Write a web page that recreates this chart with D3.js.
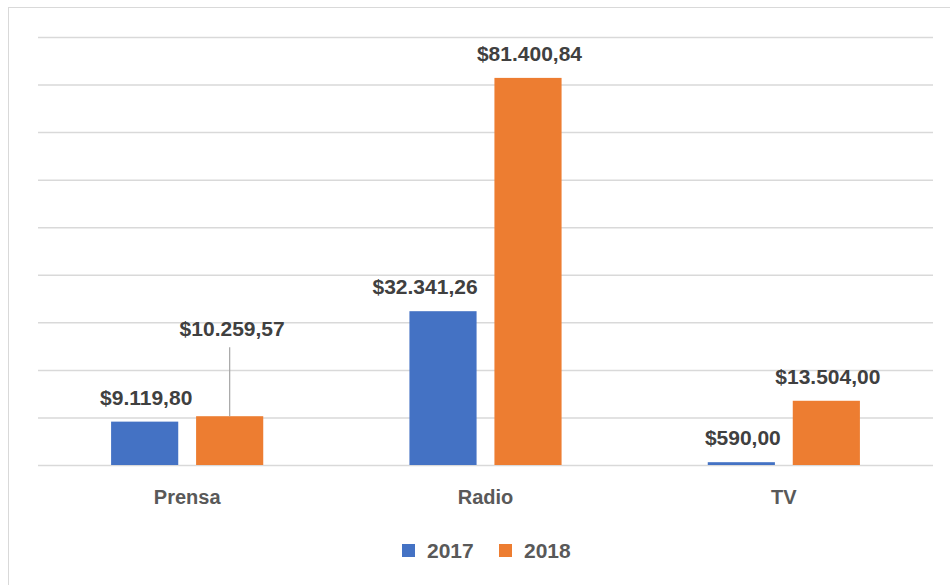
<!DOCTYPE html>
<html>
<head>
<meta charset="utf-8">
<script src="https://cdn.jsdelivr.net/npm/d3@7/dist/d3.min.js"></script>
<style>
  html, body { margin: 0; padding: 0; background: #ffffff; }
  svg { display: block; }
  text { font-family: "Liberation Sans", Arial, sans-serif; font-weight: bold; }
</style>
</head>
<body>
<svg id="chart" width="950" height="585"></svg>
<script>
// Ad spending by medium, two years
const categories = ["Prensa", "Radio", "TV"];
const years = ["2017", "2018"];
const values2017 = [9119.80, 32341.26, 590.00];
const values2018 = [10259.57, 81400.84, 13504.00];
const yTicks = [0, 10000, 20000, 30000, 40000, 50000, 60000, 70000, 80000, 90000];
const colors = ["#4472c4", "#ed7d31"];

const seriesValues = [values2017, values2018];
const rows = categories.map((c, i) => ({
  category: c,
  values: years.map((y, k) => ({ year: y, key: k, value: seriesValues[k][i] }))
}));

const svg = d3.select("#chart");
const margin = { left: 38, right: 17, top: 37, bottom: 120 };
const W = 950, H = 585;

// light outer frame
svg.append("rect")
  .attr("x", 8.5).attr("y", 7.5)
  .attr("width", 960).attr("height", 600)
  .attr("fill", "none").attr("stroke", "#d9d9d9").attr("stroke-width", 1);

const x0 = d3.scaleBand()
  .domain(categories)
  .range([margin.left, W - margin.right])
  .paddingInner(0.49).paddingOuter(0.245);

const x1 = d3.scaleBand()
  .domain(years)
  .range([0, x0.bandwidth()])
  .paddingInner(0.21);

const y = d3.scaleLinear()
  .domain([0, 90000])
  .range([465, 37]);

// horizontal gridlines
const yAxis = d3.axisLeft(y)
  .tickValues(yTicks)
  .tickSize(-(W - margin.right - margin.left))
  .tickFormat("");
const gy = svg.append("g")
  .attr("transform", `translate(${margin.left},0)`)
  .call(yAxis);
gy.select(".domain").remove();
gy.selectAll(".tick line")
  .attr("stroke", "#d9d9d9")
  .attr("stroke-width", 1.5);

// bars
const groups = svg.append("g").selectAll("g")
  .data(rows)
  .join("g")
  .attr("transform", d => `translate(${x0(d.category)},0)`);

groups.selectAll("rect")
  .data(d => d.values)
  .join("rect")
  .attr("x", d => x1(d.year))
  .attr("y", d => y(d.value))
  .attr("width", x1.bandwidth())
  .attr("height", d => y(0) - y(d.value))
  .attr("fill", d => colors[d.key]);

// value labels
const fmt = v => "$" + d3.format(",.2f")(v).replace(/,/g, "#").replace(".", ",").replace(/#/g, ".");

groups.each(function (row) {
  const g = d3.select(this);
  row.values.forEach(d => {
    const left = x1(d.year);
    const cx = left + x1.bandwidth() / 2;
    const top = y(d.value);
    // first category's 2018 label sits higher, tied to its bar by a leader line
    const lifted = row.category === "Prensa" && d.key === 1;
    // the Radio 2017 label is pulled left so it clears the taller neighbour
    const shifted = row.category === "Radio" && d.key === 0;
    const baseline = lifted ? top - 80 : top - 17;
    if (lifted) {
      g.append("line")
        .attr("x1", cx).attr("x2", cx)
        .attr("y1", baseline + 11).attr("y2", top)
        .attr("stroke", "#a6a6a6").attr("stroke-width", 1.2);
    }
    g.append("text")
      .attr("x", shifted ? left + x1.bandwidth() + 1 : (lifted ? cx + 2.5 : cx + 1.5))
      .attr("y", baseline)
      .attr("text-anchor", shifted ? "end" : "middle")
      .attr("font-size", 21)
      .attr("fill", "#404040")
      .text(fmt(d.value));
  });
});

// category axis labels
const xAxis = d3.axisBottom(x0).tickSize(0).tickPadding(0);
const gx = svg.append("g")
  .attr("transform", `translate(0,${y(0)})`)
  .call(xAxis);
gx.select(".domain").remove();
gx.selectAll(".tick text")
  .attr("y", 39)
  .attr("dy", 0)
  .attr("font-size", 20)
  .attr("font-family", "Liberation Sans, Arial, sans-serif")
  .attr("font-weight", "bold")
  .attr("fill", "#595959");

// legend
const legend = svg.append("g");
const legendX = [402, 499];
years.forEach((yr, k) => {
  legend.append("rect")
    .attr("x", legendX[k]).attr("y", 544)
    .attr("width", 13).attr("height", 13)
    .attr("fill", colors[k]);
  legend.append("text")
    .attr("x", legendX[k] + 25).attr("y", 558)
    .attr("font-size", 21)
    .attr("fill", "#595959")
    .text(yr);
});
</script>
</body>
</html>
